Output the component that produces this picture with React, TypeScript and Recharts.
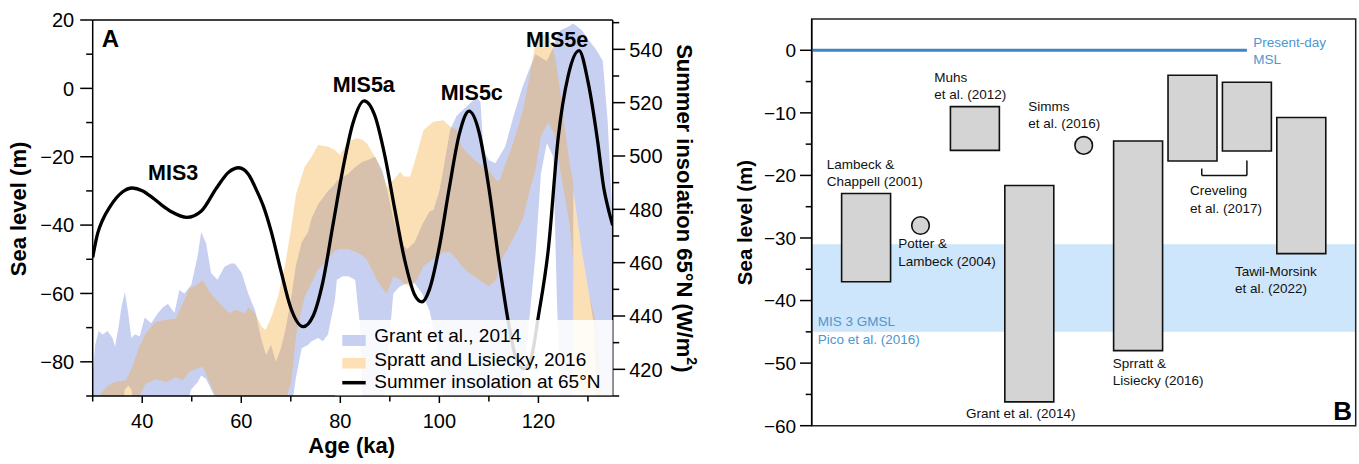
import { Area, ComposedChart, Line, ReferenceArea, ReferenceDot, ReferenceLine, XAxis, YAxis } from "recharts";

const FONT = "'Liberation Sans', Arial, Helvetica, sans-serif";

// ---------- Panel A : sea level bands + insolation ----------
const grantAge = [
  30, 30.5, 31.2, 32, 33, 34, 34.5, 35.2, 35.8, 36.5, 37.2, 37.8, 38.5, 39.5, 40.5, 41.8, 43.2, 44.2, 45.2, 46.5,
  47.5, 48.5, 49.9, 51.2, 51.9, 52.9, 53.9, 55.2, 56.6, 57.9, 58.7, 60.1, 61.4, 62.8, 64, 65, 66, 67, 68, 69, 70,
  71, 72.2, 73.5, 74.2, 75.5, 76.5, 77.5, 78.9, 79.3, 80.5, 81.6, 83, 84, 84.5, 85.4, 87, 88.5, 89.5, 90.7, 92,
  93.5, 95, 96.5, 98, 98.8, 100, 101, 102.2, 103.5, 105, 106.5, 107.4, 108.3, 108.9, 110, 111.3, 113.3, 115,
  116.7, 118, 119.4, 120.5, 121.7, 123, 123.7, 124.5, 126, 127, 127.05, 128.8, 130.2, 131.3, 131.8, 133, 134, 135,
];
const grantLow = [
  -95, -95, -95, -95, -95, -95, -95, -95, -95, -88, -87, -88, -95, -95, -95, -95, -95, -95, -95, -95,
  -95, -95, -88, -86, -84, -85, -88, -92, -95, -95, -95, -95, -95, -95, -95, -95, -95, -95, -95, -95, -95,
  -85, -76, -75, -74, -73, -74, -72, -62, -56, -55, -55, -56, -70, -95, -95, -95, -95, -80, -60, -58,
  -57, -57, -60, -65, -70, -80, -95, -95, -95, -95, -95, -95, -95, -95, -95, -95, -95, -95,
  -92, -70, -49, -25, -16, -20, -60, -95, -95, -95, -30, -48, -60, -70, -95, -95, -95, -95,
];
const grantHigh = [
  -84, -75, -71, -72, -71, -73, -75.6, -70, -64, -59.5, -66, -73, -72, -72.5, -67, -68.7, -65.7, -64, -63, -65.7,
  -59, -60, -57.5, -49, -42, -45.3, -54, -56, -52.2, -51.2, -51.2, -54, -60, -65, -73, -78, -75, -80, -76, -70, -62,
  -52, -45, -42, -38, -34, -32, -30, -28, -27, -26, -25, -23, -22, -21.5, -21, -20, -24, -30, -38, -45,
  -47, -45, -40, -36, -35.6, -30, -22, -12, -8, -6, -4, -2.5, -4, -18, -21, -21.9, -17, -8,
  0, 5, 10, 9, 8, 12, 15, 17, 18, 19, 19, 17, 14, 12, 11, 8, -10, -40,
];

const sprattAge = [
  31.5, 32, 33, 34.7, 36.7, 38, 39.4, 40.7, 42.7, 44.8, 46.8, 48.2, 49.5, 50.9, 52.2, 53.6, 55.6, 57.6, 58.7, 60.8,
  61.4, 62.8, 64.1, 64.9, 66.1, 67.4, 68.8, 70.1, 71.1, 72.8, 74.2, 75.5, 77.5, 78.9, 79.9, 81.6, 83.3, 84.5, 85.4,
  87.4, 88.7, 89.4, 90.7, 92.1, 92.8, 94.1, 95.5, 96.8, 98.8, 100.8, 102.2, 103.5, 104.5, 106, 108, 110, 111.5,
  112.2, 114.9, 116.9, 118.2, 119.4, 120.5, 122, 123.4, 124.5, 125.4, 126.3, 127, 127.05, 128.8, 130.2, 131.5, 132.3, 133,
];
const sprattLow = [
  -95, -95, -95, -95, -95, -95, -90, -86.5, -85, -86, -84.5, -85.5, -83, -82, -81.5, -86, -93, -95, -95, -95,
  -95, -95, -95, -95, -95, -95, -92, -86, -72, -61, -57, -53, -50, -47.5, -47, -47, -48, -49, -50.2,
  -56, -59, -60, -55, -56, -57, -58, -56, -52, -50, -48, -48, -50, -52, -54, -56, -58, -56,
  -51, -44, -38, -30, -24, -14, -10, -14, -25, -32, -40, -50, -95, -95, -95, -95, -95, -95,
];
const sprattHigh = [
  -89.5, -88.7, -87, -85.8, -85.4, -81.4, -75.6, -71.7, -68.3, -67.7, -67.3, -62.9, -58.5, -57.6, -56.1, -59.5, -62.9, -65.8, -64.8, -65.8,
  -64, -65.8, -69.7, -70.7, -66.8, -61, -52.2, -40.5, -30.7, -22.9, -20, -16.6, -17, -18, -19.5, -15.6, -14.6, -15, -16.1,
  -21, -25.8, -28.8, -26.8, -24.4, -25.8, -25.8, -19, -12.2, -9.75, -9.3, -11.2, -12, -17, -19.5, -22, -24, -27,
  -26.8, -16, -6.3, 3.4, 13, 15.5, 16, 9.3, -2, -12.2, -22, -27, -30, -48, -60, -68, -80, -95,
];

const insolationAge = [
  30, 31, 32, 33.5, 36, 38, 40, 42, 44, 46, 49, 52, 55, 57.5, 59.5, 61.5, 63, 64.5, 66, 68, 70, 72.5, 74.5, 76.5,
  78.5, 80.5, 82.5, 84.8, 87, 89, 91, 93, 95, 96.5, 98, 100, 102, 104, 106, 108, 110, 112, 114, 115.5, 117, 118.5,
  120, 122, 124, 126, 128.2, 130, 132, 133.2, 134, 135,
];
const insolationWm2 = [
  462, 471, 476, 481, 486.5, 488, 487, 484.5, 481.5, 479, 477, 479.5, 488, 494, 495.6, 493, 487.5, 481, 472, 457, 443, 436, 440, 453,
  474, 495, 512, 520.7, 515, 500, 480, 461, 448, 445.3, 450, 466, 488, 508, 516.8, 509, 488, 461, 437, 424, 420.3, 424,
  440, 465, 507, 530, 539.5, 528, 505, 488, 481, 474,
];

const grantData = grantAge.map((age, i) => ({ age, range: [grantLow[i], grantHigh[i]] }));
const sprattData = sprattAge.map((age, i) => ({ age, range: [sprattLow[i], sprattHigh[i]] }));
const insolationData = insolationAge.map((age, i) => ({ age, w: insolationWm2[i] }));

const ageTicks = [30, 40, 50, 60, 70, 80, 90, 100, 110, 120, 130];
const seaTicksA = [-90, -80, -70, -60, -50, -40, -30, -20, -10, 0, 10, 20];
const insTicks = [410, 420, 430, 440, 450, 460, 470, 480, 490, 500, 510, 520, 530, 540, 550];

// ---------- Panel B : MIS 3 estimates ----------
const studyPos = [1, 3, 4, 6, 7, 8, 9];
const studyTop = [-22.9, -9.0, -21.6, -14.5, -4.0, -5.1, -10.75];
const studyBottom = [-37.0, -16.0, -56.2, -48.0, -17.7, -16.1, -32.5];
const pointPos = [2, 5];
const pointValue = [-28.0, -15.2];
const gmslRange = [-45, -31];
const seaTicksB = [-60, -55, -50, -45, -40, -35, -30, -25, -20, -15, -10, -5, 0];

const BLUE_BAND = "#c8d0f2";
const ORANGE_BAND = "#f7a52b";

const fmt = (v: number) => (v < 0 ? "\u2212" + Math.abs(v) : String(v));

function leftTickA(props: any) {
  const { x, y, payload } = props;
  const v = payload.value as number;
  const major = v % 20 === 0;
  return (
    <g>
      <line x1={x - (major ? 12.5 : 6.5)} x2={x} y1={y} y2={y} stroke="#000" strokeWidth={1.5} />
      {major && (
        <text x={x - 18.5} y={y} dy="0.36em" textAnchor="end" fontSize={20} fontFamily={FONT} fill="#000">
          {fmt(v)}
        </text>
      )}
    </g>
  );
}

function rightTickA(props: any) {
  const { x, y, payload } = props;
  const v = payload.value as number;
  const major = v % 20 === 0;
  return (
    <g>
      <line x1={x} x2={x + (major ? 12.5 : 6.5)} y1={y} y2={y} stroke="#000" strokeWidth={1.5} />
      {major && (
        <text x={x + 16.5} y={y} dy="0.36em" textAnchor="start" fontSize={20} fontFamily={FONT} fill="#000">
          {v}
        </text>
      )}
    </g>
  );
}

function bottomTickA(props: any) {
  const { x, y, payload } = props;
  const v = payload.value as number;
  const major = v % 20 === 0;
  return (
    <g>
      <line x1={x} x2={x} y1={y} y2={y + (major ? 7 : 5.5)} stroke="#000" strokeWidth={1.5} />
      {major && (
        <text x={x} y={y + 32} textAnchor="middle" fontSize={20} fontFamily={FONT} fill="#000">
          {v}
        </text>
      )}
    </g>
  );
}

function leftTickB(props: any) {
  const { x, y, payload } = props;
  const v = payload.value as number;
  const major = v % 10 === 0;
  return (
    <g>
      <line x1={x - (major ? 11.7 : 6)} x2={x} y1={y} y2={y} stroke="#000" strokeWidth={1.5} />
      {major && (
        <text x={x - 15.5} y={y} dy="0.36em" textAnchor="end" fontSize={19} fontFamily={FONT} fill="#000">
          {fmt(v)}
        </text>
      )}
    </g>
  );
}

type Lbl = { lines: string[]; x: number; y: number; color?: string };
const panelBLabels: Lbl[] = [
  { lines: ["Lambeck &", "Chappell (2001)"], x: 826.7, y: 168.5 },
  { lines: ["Potter &", "Lambeck (2004)"], x: 898.3, y: 248.3 },
  { lines: ["Muhs", "et al. (2012)"], x: 934.3, y: 81.7 },
  { lines: ["Simms", "et al. (2016)"], x: 1028.3, y: 110.7 },
  { lines: ["Grant et al. (2014)"], x: 966, y: 418.3 },
  { lines: ["Sprratt &", "Lisiecky (2016)"], x: 1112.7, y: 367.7 },
  { lines: ["Creveling", "et al. (2017)"], x: 1190, y: 195 },
  { lines: ["Tawil-Morsink", "et al. (2022)"], x: 1235, y: 275.7 },
  { lines: ["Present-day", "MSL"], x: 1253.3, y: 46.7, color: "#4e96d0" },
  { lines: ["MIS 3 GMSL", "Pico et al. (2016)"], x: 817.7, y: 326, color: "#4e96d0" },
];

export default function App() {
  return (
    <div style={{ position: "absolute", left: 0, top: 0, width: 1359, height: 464, background: "#fff", fontFamily: FONT }}>
      <div style={{ position: "absolute", left: 0, top: 0 }}>
        <ComposedChart width={720} height={464} margin={{ top: 20, right: 0, bottom: 0, left: 0 }}>
          <XAxis
            dataKey="age"
            type="number"
            domain={[30, 135]}
            ticks={ageTicks}
            allowDataOverflow
            height={68}
            tickSize={0}
            tickMargin={0}
            tickLine={false}
            axisLine={{ stroke: "#000", strokeWidth: 1.5 }}
            tick={bottomTickA}
            interval={0}
          />
          <YAxis
            yAxisId="sl"
            type="number"
            domain={[-90, 20]}
            ticks={seaTicksA}
            allowDataOverflow
            width={92.7}
            tickSize={0}
            tickMargin={0}
            tickLine={false}
            axisLine={{ stroke: "#000", strokeWidth: 1.5 }}
            tick={leftTickA}
            interval={0}
          />
          <YAxis
            yAxisId="ins"
            orientation="right"
            type="number"
            domain={[410, 551]}
            ticks={insTicks}
            allowDataOverflow
            width={107.3}
            tickSize={0}
            tickMargin={0}
            tickLine={false}
            axisLine={{ stroke: "#000", strokeWidth: 1.5 }}
            tick={rightTickA}
            interval={0}
          />
          <Area
            data={grantData}
            dataKey="range"
            yAxisId="sl"
            type="linear"
            stroke="none"
            fill={BLUE_BAND}
            fillOpacity={1}
            isAnimationActive={false}
            dot={false}
            activeDot={false}
          />
          <Area
            data={sprattData}
            dataKey="range"
            yAxisId="sl"
            type="linear"
            stroke="none"
            fill={ORANGE_BAND}
            fillOpacity={0.35}
            isAnimationActive={false}
            dot={false}
            activeDot={false}
          />
          <Line
            data={insolationData}
            dataKey="w"
            yAxisId="ins"
            type="monotone"
            stroke="#000"
            strokeWidth={3.3}
            dot={false}
            activeDot={false}
            isAnimationActive={false}
          />
          <ReferenceLine yAxisId="sl" y={20} stroke="#000" strokeWidth={1.5} ifOverflow="visible" />
        </ComposedChart>
      </div>

      <div style={{ position: "absolute", left: 720, top: 0 }}>
        <ComposedChart width={639} height={464} margin={{ top: 19, right: 3.3, bottom: 38.3, left: 0 }}>
          <XAxis type="number" dataKey="x" domain={[0, 10]} hide allowDataOverflow />
          <YAxis
            type="number"
            domain={[-60, 5]}
            ticks={seaTicksB}
            allowDataOverflow
            width={91.7}
            tickSize={0}
            tickMargin={0}
            tickLine={false}
            axisLine={{ stroke: "#000", strokeWidth: 1.5 }}
            tick={leftTickB}
            interval={0}
          />
          <ReferenceArea x1={0} x2={10} y1={gmslRange[0]} y2={gmslRange[1]} fill="#cde6fb" fillOpacity={1} stroke="none" />
          <ReferenceLine segment={[{ x: 0, y: 0 }, { x: 8, y: 0 }]} stroke="#3f87c4" strokeWidth={3} />
          {studyPos.map((p, i) => (
            <ReferenceArea
              key={"s" + i}
              x1={p - 0.45}
              x2={p + 0.45}
              y1={studyBottom[i]}
              y2={studyTop[i]}
              fill="#d4d4d4"
              fillOpacity={1}
              stroke="#111"
              strokeWidth={1.6}
            />
          ))}
          {pointPos.map((p, i) => (
            <ReferenceDot key={"p" + i} x={p} y={pointValue[i]} r={8.8} fill="#d4d4d4" stroke="#111" strokeWidth={1.6} />
          ))}
          <ReferenceLine segment={[{ x: 7.17, y: -18.9 }, { x: 7.17, y: -20 }]} stroke="#111" strokeWidth={1.5} />
          <ReferenceLine segment={[{ x: 7.17, y: -20 }, { x: 8.0, y: -20 }]} stroke="#111" strokeWidth={1.5} />
          <ReferenceLine segment={[{ x: 8.0, y: -17.6 }, { x: 8.0, y: -20 }]} stroke="#111" strokeWidth={1.5} />
          <ReferenceArea x1={0} x2={10} y1={-60} y2={5} fill="none" fillOpacity={0} stroke="#222" strokeWidth={1.5} />
        </ComposedChart>
      </div>

      <svg
        width={1359}
        height={464}
        style={{ position: "absolute", left: 0, top: 0, pointerEvents: "none" }}
        fontFamily={FONT}
      >
        {/* panel A annotations */}
        <text x={101.7} y={46.7} fontSize={24} fontWeight="bold">A</text>
        <text x={148} y={180} fontSize={21.5} fontWeight="bold">MIS3</text>
        <text x={332.7} y={91.7} fontSize={21.5} fontWeight="bold">MIS5a</text>
        <text x={440.7} y={100} fontSize={21.5} fontWeight="bold">MIS5c</text>
        <text x={526} y={46.7} fontSize={21.5} fontWeight="bold">MIS5e</text>
        <text x={18} y={209} fontSize={22} fontWeight="bold" textAnchor="middle" dominantBaseline="central" transform="rotate(-90 18 209)">
          Sea level (m)
        </text>
        <text x={351.7} y={453} fontSize={22} fontWeight="bold" textAnchor="middle">Age (ka)</text>
        <text x={684} y={208.3} fontSize={22} fontWeight="bold" textAnchor="middle" dominantBaseline="central" transform="rotate(90 684 208.3)">
          Summer insolation 65°N (W/m<tspan dy={-8} fontSize={14}>2</tspan><tspan dy={8}>)</tspan>
        </text>

        {/* legend */}
        <rect x={335} y={320} width={277.7} height={75.3} fill="#fff" fillOpacity={0.86} />
        <rect x={342.3} y={335} width={23.4} height={11} fill={BLUE_BAND} />
        <rect x={342.3} y={358} width={23.4} height={10.5} fill="#fde0b6" />
        <line x1={342.3} x2={365.7} y1={382.7} y2={382.7} stroke="#000" strokeWidth={3.5} />
        <text x={374.3} y={341.7} fontSize={19}>Grant et al., 2014</text>
        <text x={374.3} y={365.7} fontSize={19}>Spratt and Lisiecky, 2016</text>
        <text x={374.3} y={388.3} fontSize={19}>Summer insolation at 65°N</text>

        {/* panel B annotations */}
        {panelBLabels.map((l, i) => (
          <text key={i} x={l.x} y={l.y} fontSize={13.5} fill={l.color ?? "#111"}>
            {l.lines.map((s, j) => (
              <tspan key={j} x={l.x} y={l.y + j * 17.6}>
                {s}
              </tspan>
            ))}
          </text>
        ))}
        <text x={1333.3} y={420} fontSize={26} fontWeight="bold">B</text>
        <text x={744} y={222.5} fontSize={20.5} fontWeight="bold" textAnchor="middle" dominantBaseline="central" transform="rotate(-90 744 222.5)">
          Sea level (m)
        </text>
      </svg>
    </div>
  );
}
